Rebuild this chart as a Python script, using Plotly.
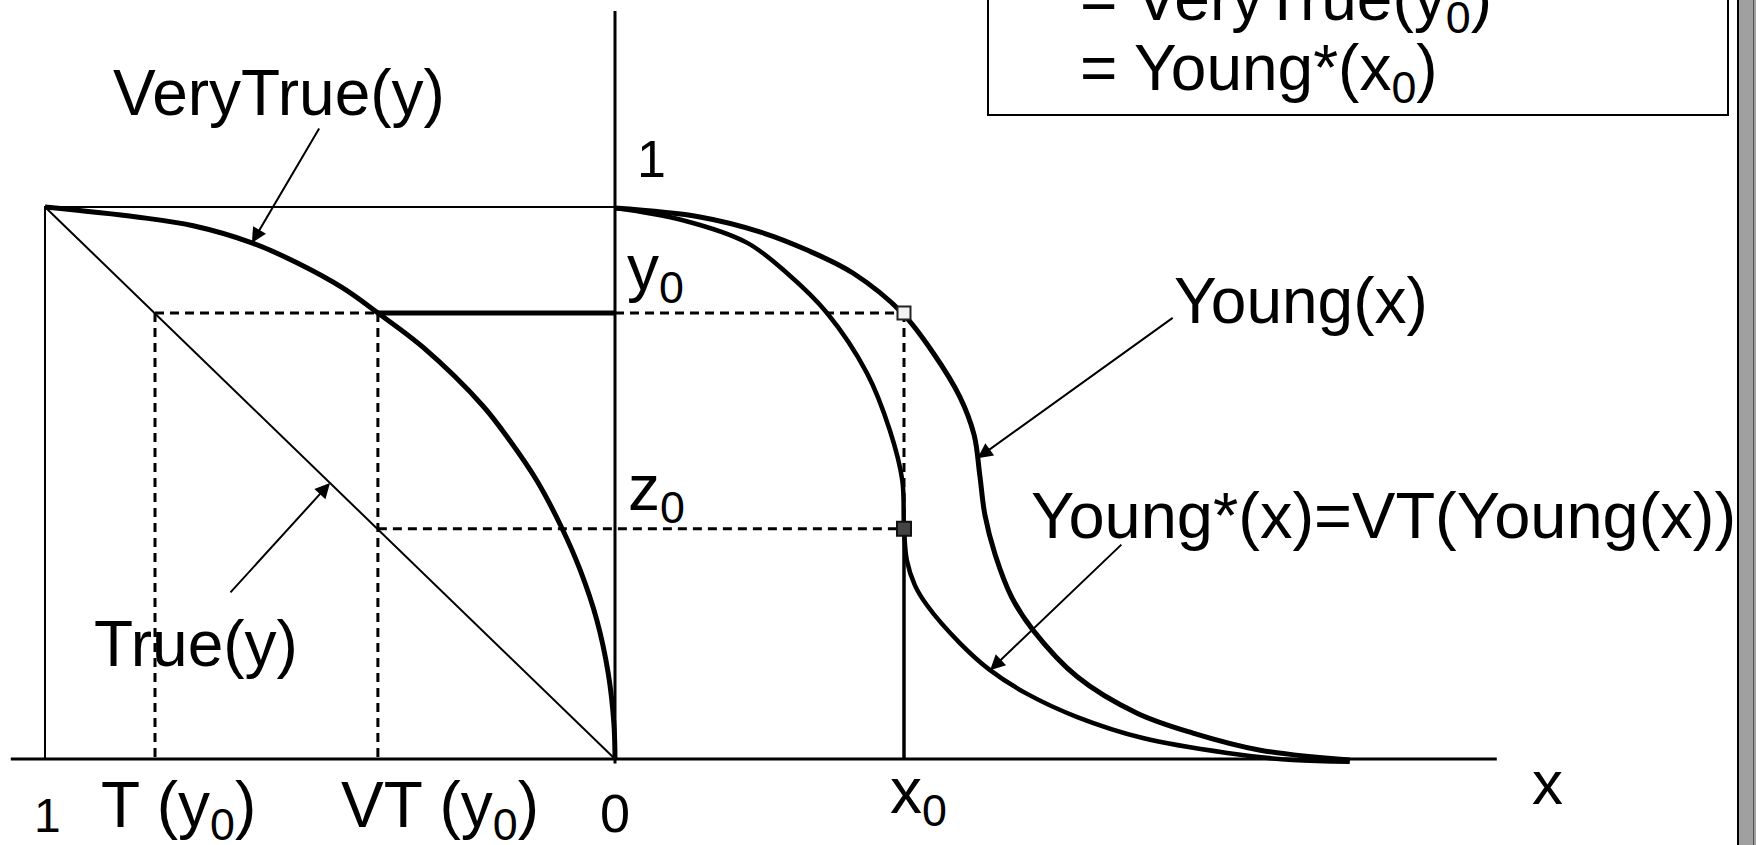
import plotly.graph_objects as go

W, H = 1756, 845
FONT = 'Liberation Sans, Arial, sans-serif'

# --- values ---
# left panel: truth value (drawn to the left, 1 .. 0) against membership y
vt_y = [1.0, 0.982, 0.966, 0.935, 0.899, 0.853, 0.808, 0.746, 0.640, 0.576,
        0.504, 0.418, 0.342, 0.252, 0.156, 0.065, 0.0]
vt_truth = [1.0, 0.839, 0.740, 0.637, 0.558, 0.477, 0.416, 0.337, 0.232, 0.184,
            0.137, 0.093, 0.061, 0.032, 0.012, 0.002, 0.0]
true_y = [1.0, 0.0]
true_truth = [1.0, 0.0]

# right panel: Young(x) and Young*(x)
young_x = [0.0, 0.149, 0.254, 0.337, 0.418, 0.504, 0.558, 0.605, 0.630, 0.640,
           0.649, 0.667, 0.696, 0.733, 0.811, 0.916, 1.014, 1.132, 1.289]
young_mu = [0.998, 0.982, 0.955, 0.922, 0.880, 0.808, 0.736, 0.656, 0.587, 0.514,
            0.442, 0.370, 0.293, 0.234, 0.149, 0.083, 0.047, 0.016, -0.002]
ystar_x = [0.0, 0.119, 0.232, 0.302, 0.372, 0.442, 0.482, 0.504, 0.507, 0.512,
           0.526, 0.547, 0.605, 0.658, 0.723, 0.811, 0.926, 1.074, 1.189, 1.289]
ystar_mu = [0.998, 0.976, 0.935, 0.880, 0.808, 0.699, 0.596, 0.505, 0.420, 0.360,
            0.315, 0.279, 0.210, 0.161, 0.118, 0.076, 0.038, 0.011, -0.002, -0.005]

x0 = 0.507      # chosen age
y0 = 0.808      # Young(x0)
t_y0 = 0.807    # True(y0)
vt_y0 = 0.416   # VeryTrue(y0)
z0 = 0.417      # = Young*(x0)

fig = go.Figure()


def line(x, y, width=2, dash=None, shape='linear'):
    ln = dict(color='black', width=width, dash=dash, shape=shape)
    if shape == 'spline':
        ln['smoothing'] = 1
    fig.add_trace(go.Scatter(x=x, y=y, mode='lines', line=ln, hoverinfo='skip'))


DASH = '9px,6px'
# box + True(y) diagonal
line([-1, -1, 0], [0, 1, 1], 2)
line([-t for t in true_truth], true_y, 2)
# dashed guides
line([-t_y0, -vt_y0], [y0, y0], 3, DASH)
line([-t_y0, -t_y0], [y0, 0], 3, DASH)
line([-vt_y0, -vt_y0], [y0, 0], 3, DASH)
line([0, x0], [y0, y0], 3, DASH)
line([-vt_y0, x0], [z0, z0], 3, DASH)
line([x0, x0], [y0, z0], 3, DASH)
# solid pieces
line([-vt_y0, 0], [y0, y0], 5)
line([x0, x0], [z0, 0], 3.5)
# curves
line([-t for t in vt_truth], vt_y, 5, shape='spline')
line(young_x, young_mu, 5, shape='spline')
line(ystar_x, ystar_mu, 4.5, shape='spline')
# axes
line([-1.06, 1.547], [0, 0], 3)
line([0, 0], [-0.008, 1.355], 3)

# points on x0
fig.add_trace(go.Scatter(x=[x0], y=[y0], mode='markers', hoverinfo='skip',
                         marker=dict(symbol='square', size=13, color='#f2f2f2',
                                     line=dict(color='#222', width=2))))
fig.add_trace(go.Scatter(x=[x0], y=[z0], mode='markers', hoverinfo='skip',
                         marker=dict(symbol='square', size=14, color='#444',
                                     line=dict(color='#111', width=2))))


def label(text, left_px, base_px, size):
    off = 0.3465 - (0.073 if '<sub>' in text else 0)
    c = base_px - size * off
    return dict(text=text, xref='paper', yref='paper', x=left_px / W, y=1 - c / H,
                xanchor='left', yanchor='middle', showarrow=False,
                font=dict(size=size, color='black', family=FONT))


def arrow(tip, tail):
    return dict(text='', x=tip[0], y=tip[1], ax=tail[0], ay=tail[1],
                xref='x', yref='y', axref='x', ayref='y', showarrow=True,
                arrowhead=2, arrowsize=1.5, arrowwidth=2, arrowcolor='black', standoff=0)


annotations = [
    label('VeryTrue(y)', 111, 115, 64),
    label('True(y)', 92, 666, 64),
    label('1', 635, 177, 52),
    label('y<sub>0</sub>', 625, 290, 64),
    label('z<sub>0</sub>', 626, 510, 64),
    label('Young(x)', 1172, 323, 64),
    label('Young*(x)=VT(Young(x))', 1029, 538, 65),
    label('1', 32, 832, 48),
    label('T (y<sub>0</sub>)', 99, 827, 64),
    label('VT (y<sub>0</sub>)', 339, 827, 64),
    label('0', 598, 832, 54),
    label('x<sub>0</sub>', 888, 813, 64),
    label('x', 1530, 804, 62),
    label('= VeryTrue(y<sub>0</sub>)', 1078, 20, 64),
    label('= Young*(x<sub>0</sub>)', 1078, 90, 64),
    arrow((-vt_truth[3], vt_y[3]), (-0.5175, 1.145)),
    arrow((-0.5, 0.5), (-0.677, 0.299)),
    arrow((0.636, 0.545), (0.981, 0.801)),
    arrow((ystar_x[13], ystar_mu[13]), (0.891, 0.391)),
]

shapes = [
    # formula box top right
    dict(type='rect', xref='paper', yref='paper', x0=988 / W, x1=1728 / W,
         y0=1 - 115 / H, y1=1.1, line=dict(color='black', width=2), fillcolor='rgba(0,0,0,0)'),
    # grey strip at the right edge
    dict(type='rect', xref='paper', yref='paper', x0=1739 / W, x1=1.0, y0=0, y1=1,
         line=dict(width=0), fillcolor='#a0a0a0'),
    dict(type='line', xref='paper', yref='paper', x0=1738 / W, x1=1738 / W, y0=0, y1=1,
         line=dict(color='black', width=2)),
    dict(type='line', xref='paper', yref='paper', x0=1753.5 / W, x1=1753.5 / W, y0=0, y1=1,
         line=dict(color='#555', width=1)),
]

fig.update_layout(
    width=W, height=H, margin=dict(l=0, r=0, t=0, b=0),
    paper_bgcolor='white', plot_bgcolor='white', showlegend=False,
    font=dict(family=FONT, color='black'),
    xaxis=dict(range=[-615 / 570, (W - 615) / 570], visible=False, fixedrange=True),
    yaxis=dict(range=[(759 - H) / 552, 759 / 552], visible=False, fixedrange=True),
    annotations=annotations, shapes=shapes,
)

fig.write_html("out.html", config={'displayModeBar': False},
               post_script="document.body.style.margin='0';")
